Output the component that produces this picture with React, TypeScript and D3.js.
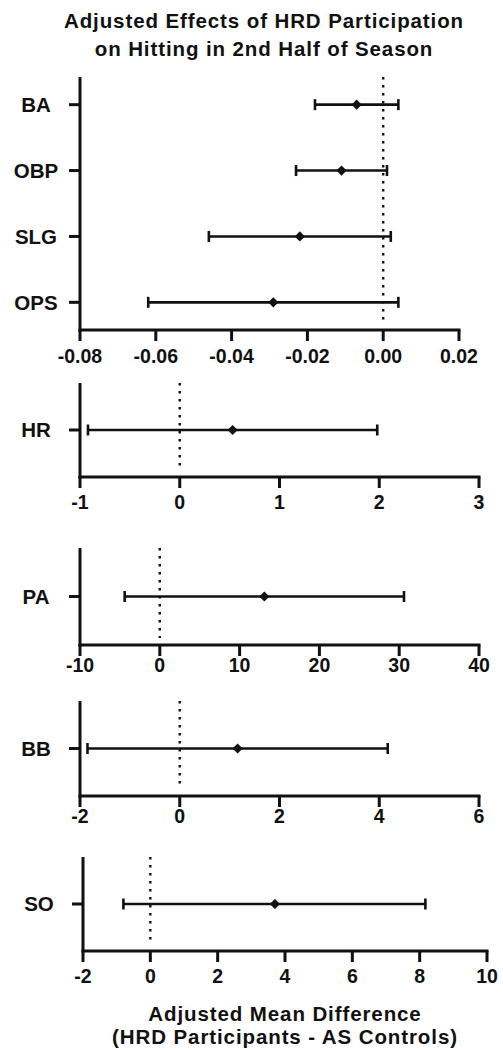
import React from "react";
import * as d3 from "d3";

// ---- Data ----
const rateStats = ["BA", "OBP", "SLG", "OPS"];
const rateMeans = [-0.007, -0.011, -0.022, -0.029];
const rateLower = [-0.018, -0.023, -0.046, -0.062];
const rateUpper = [0.004, 0.001, 0.002, 0.004];
const rateTicks = [-0.08, -0.06, -0.04, -0.02, 0.0, 0.02];

const countStats = ["HR", "PA", "BB", "SO"];
const countMeans = [0.53, 13.1, 1.16, 3.7];
const countLower = [-0.92, -4.4, -1.85, -0.8];
const countUpper = [1.98, 30.6, 4.17, 8.17];
const hrTicks = [-1, 0, 1, 2, 3];
const paTicks = [-10, 0, 10, 20, 30, 40];
const bbTicks = [-2, 0, 2, 4, 6];
const soTicks = [-2, 0, 2, 4, 6, 8, 10];

const titleLines = ["Adjusted Effects of HRD Participation", "on Hitting in 2nd Half of Season"];
const xLabelLines = ["Adjusted Mean Difference", "(HRD Participants - AS Controls)"];

// ---- Layout ----
const FONT = "'Liberation Sans', Arial, Helvetica, sans-serif";
const INK = "#111";

type PanelDef = {
  cats: string[];
  means: number[];
  lower: number[];
  upper: number[];
  ticks: number[];
  fmt: (v: number) => string;
  left: number;
  right: number;
  top: number;
  bottom: number;
  padding: number;
  labelOff: number;
};

const panels: PanelDef[] = [
  {
    cats: rateStats, means: rateMeans, lower: rateLower, upper: rateUpper,
    ticks: rateTicks, fmt: d3.format(".2f"),
    left: 80, right: 459, top: 77, bottom: 330, padding: 0.42, labelOff: 26,
  },
  {
    cats: [countStats[0]], means: [countMeans[0]], lower: [countLower[0]], upper: [countUpper[0]],
    ticks: hrTicks, fmt: d3.format("d"),
    left: 80, right: 479, top: 383, bottom: 477, padding: 0.5, labelOff: 25,
  },
  {
    cats: [countStats[1]], means: [countMeans[1]], lower: [countLower[1]], upper: [countUpper[1]],
    ticks: paTicks, fmt: d3.format("d"),
    left: 80, right: 479, top: 548, bottom: 645, padding: 0.5, labelOff: 20,
  },
  {
    cats: [countStats[2]], means: [countMeans[2]], lower: [countLower[2]], upper: [countUpper[2]],
    ticks: bbTicks, fmt: d3.format("d"),
    left: 80, right: 479, top: 701, bottom: 796, padding: 0.5, labelOff: 20,
  },
  {
    cats: [countStats[3]], means: [countMeans[3]], lower: [countLower[3]], upper: [countUpper[3]],
    ticks: soTicks, fmt: d3.format("d"),
    left: 83, right: 487, top: 857, bottom: 951, padding: 0.5, labelOff: 25,
  },
];

const minusFmt = (s: string) => s.replace("\u2212", "-");

const diamond = d3.symbol(d3.symbolSquare, 52)() as string;

function Panel({ p }: { p: PanelDef }) {
  const x = d3.scaleLinear().domain([p.ticks[0], p.ticks[p.ticks.length - 1]]).range([p.left, p.right]);
  const y = d3.scalePoint<string>().domain(p.cats).range([p.top, p.bottom]).padding(p.padding);
  const x0 = x(0);
  return (
    <g>
      {/* zero reference dotted line */}
      <line x1={x0} x2={x0} y1={p.top} y2={p.bottom - 7} stroke={INK} strokeWidth={2.4} strokeDasharray="2.4,5.6" />
      {/* error bars */}
      {p.cats.map((c, i) => {
        const cy = y(c) as number;
        return (
          <g key={c}>
            <line x1={x(p.lower[i])} x2={x(p.upper[i])} y1={cy} y2={cy} stroke={INK} strokeWidth={2.6} />
            <line x1={x(p.lower[i])} x2={x(p.lower[i])} y1={cy - 5.5} y2={cy + 5.5} stroke={INK} strokeWidth={2.6} />
            <line x1={x(p.upper[i])} x2={x(p.upper[i])} y1={cy - 5.5} y2={cy + 5.5} stroke={INK} strokeWidth={2.6} />
            <path d={diamond} transform={`translate(${x(p.means[i])},${cy}) rotate(45)`} fill={INK} />
            {/* y tick */}
            <line x1={p.left - 11} x2={p.left} y1={cy} y2={cy} stroke={INK} strokeWidth={3} />
            <text x={p.left - 44} y={cy + 7.2} textAnchor="middle" fontFamily={FONT} fontWeight="bold" fontSize={20.5} fill={INK}>
              {c}
            </text>
          </g>
        );
      })}
      {/* axes */}
      <line x1={p.left} x2={p.left} y1={p.top} y2={p.bottom + 1.5} stroke={INK} strokeWidth={3} />
      <line x1={p.left - 1.5} x2={p.right + 1.5} y1={p.bottom} y2={p.bottom} stroke={INK} strokeWidth={3} />
      {p.ticks.map((t) => (
        <g key={t}>
          <line x1={x(t)} x2={x(t)} y1={p.bottom} y2={p.bottom + 11} stroke={INK} strokeWidth={3} />
          <text x={x(t)} y={p.bottom + p.labelOff + 7} textAnchor="middle" fontFamily={FONT} fontWeight="bold" fontSize={19.5} fill={INK}>
            {minusFmt(p.fmt(t))}
          </text>
        </g>
      ))}
    </g>
  );
}

export default function App() {
  return (
    <svg width={503} height={1050} style={{ position: "absolute", left: 0, top: 0, background: "#fff" }}>
      <rect width={503} height={1050} fill="#fff" />
      {titleLines.map((t, i) => (
        <text key={t} x={264} y={28 + i * 28} textAnchor="middle" fontFamily={FONT} fontWeight="bold" fontSize={20.5} letterSpacing={0.9} fill={INK}>
          {t}
        </text>
      ))}
      {panels.map((p, i) => (
        <Panel key={i} p={p} />
      ))}
      {xLabelLines.map((t, i) => (
        <text key={t} x={285} y={1021 + i * 23} textAnchor="middle" fontFamily={FONT} fontWeight="bold" fontSize={20.5} letterSpacing={0.9} fill={INK}>
          {t}
        </text>
      ))}
    </svg>
  );
}
